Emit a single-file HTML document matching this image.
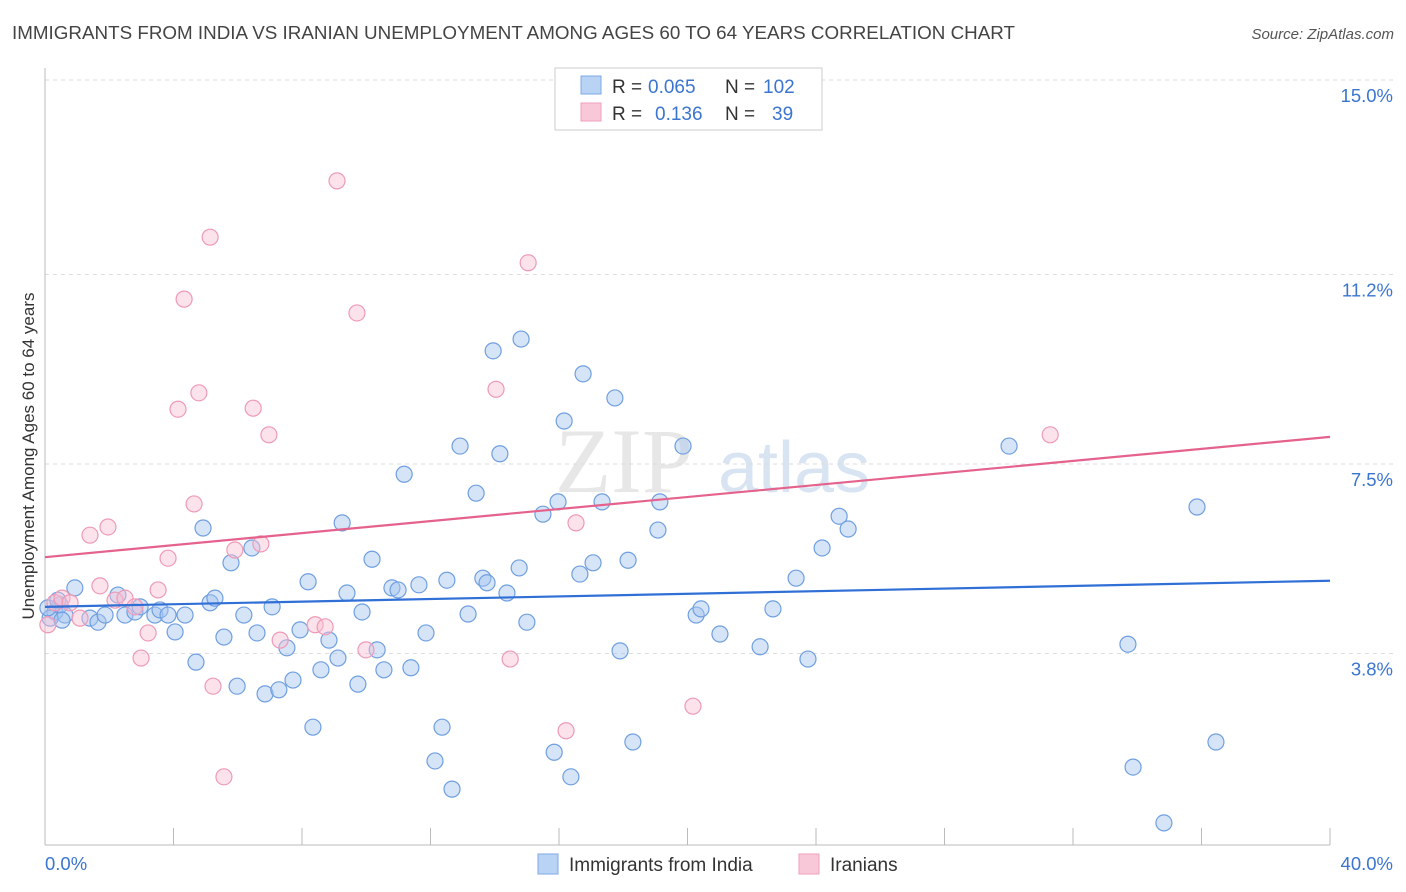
<!DOCTYPE html>
<html><head><meta charset="utf-8"><style>
body{margin:0;background:#fff;font-family:"Liberation Sans",sans-serif;}
svg{display:block}
</style></head><body>
<svg id="chart" width="1406" height="892" xmlns="http://www.w3.org/2000/svg">
<text x="12" y="39" font-size="18.5" fill="#444" textLength="1003" lengthAdjust="spacingAndGlyphs">IMMIGRANTS FROM INDIA VS IRANIAN UNEMPLOYMENT AMONG AGES 60 TO 64 YEARS CORRELATION CHART</text>
<text x="1394" y="39" font-size="15" fill="#555" text-anchor="end" font-style="italic">Source: ZipAtlas.com</text>
<g><text x="555" y="492" font-size="92" fill="#ddd" font-family="Liberation Serif,serif" opacity="0.7">ZIP</text><text x="718" y="492" font-size="72" fill="#c9d9ef" opacity="0.7">atlas</text></g>
<g id="grid"></g>
<g id="axes"></g>
<g id="pts"></g>
<g id="trends"></g>
<text transform="translate(34,456) rotate(-90)" font-size="17" fill="#333" text-anchor="middle">Unemployment Among Ages 60 to 64 years</text>
<g font-size="19">
<rect x="555" y="68" width="267" height="62" fill="#fff" stroke="#ccc"/>
<rect x="581" y="76" width="20" height="18" fill="#b9d3f5" stroke="#7ea9e5"/>
<rect x="581" y="103" width="20" height="18" fill="#f9c8d8" stroke="#f0a0bb"/>
<text x="612" y="93" fill="#333">R =</text><text x="648" y="93" fill="#3a75d0">0.065</text>
<text x="725" y="93" fill="#333">N =</text><text x="763" y="93" fill="#3a75d0">102</text>
<text x="612" y="120" fill="#333">R =</text><text x="655" y="120" fill="#3a75d0">0.136</text>
<text x="725" y="120" fill="#333">N =</text><text x="772" y="120" fill="#3a75d0">39</text>
</g>
<g>
<rect x="538" y="854" width="20" height="20" fill="#b9d3f5" stroke="#7ea9e5"/>
<text x="569" y="871" font-size="19" fill="#333">Immigrants from India</text>
<rect x="799" y="854" width="20" height="20" fill="#f9c8d8" stroke="#f0a0bb"/>
<text x="830" y="871" font-size="19" fill="#333">Iranians</text>
</g>
</svg>
<script>
const yTicks=[15.0,11.2,7.5,3.8];
const yTickLabels=["15.0%","11.2%","7.5%","3.8%"];
const xTicks=[0,4,8,12,16,20,24,28,32,36,40];
const xEndLabels=["0.0%","40.0%"];
const indiaX=[0.31,0.47,0.62,0.93,1.40,1.65,1.87,2.27,2.49,2.80,2.96,3.42,3.58,3.83,4.05,4.36,4.70,4.92,5.14,5.29,5.57,5.79,5.98,6.19,6.44,6.60,6.85,7.07,7.28,7.53,7.72,7.94,8.19,8.34,8.59,8.84,9.12,9.25,9.40,9.74,9.87,10.18,10.34,10.55,10.80,10.99,11.18,11.39,11.64,11.86,12.14,12.36,12.51,12.67,12.92,13.17,13.42,13.63,13.76,13.95,14.16,14.38,14.76,14.82,15.00,15.50,15.85,15.97,16.16,16.37,16.65,16.75,17.06,17.34,17.74,17.90,18.15,18.30,19.08,19.14,19.86,20.27,20.42,21.01,22.26,22.66,23.38,23.75,24.19,24.72,25.00,30.01,33.71,33.87,34.83,35.86,36.45,0.16,0.09,0.53,0.40];
const indiaY=[4.61,4.75,4.55,5.08,4.49,4.41,4.55,4.94,4.55,4.61,4.71,4.55,4.65,4.55,4.22,4.55,3.63,6.25,4.79,4.88,4.12,5.57,3.16,4.55,5.86,4.20,3.01,4.71,3.09,3.91,3.28,4.26,5.20,2.36,3.48,4.06,3.71,6.35,4.98,3.20,4.61,5.64,3.87,3.48,5.08,5.04,7.30,3.52,5.14,4.20,1.70,2.36,5.23,1.15,7.85,4.57,6.93,5.27,5.18,9.71,7.70,4.98,5.47,9.94,4.41,6.52,1.87,6.76,8.34,1.39,5.35,9.26,5.57,6.76,8.79,3.85,5.62,2.07,6.21,6.76,7.85,4.55,4.67,4.18,3.93,4.67,5.27,3.69,5.86,6.48,6.23,7.85,3.98,1.58,0.49,6.66,2.07,4.49,4.69,4.45,4.84];
const iranX=[0.09,0.31,0.53,0.78,1.09,1.40,1.71,1.96,2.18,2.49,2.80,2.99,3.21,3.52,3.83,4.14,4.33,4.64,4.79,5.14,5.23,5.57,5.91,6.48,6.72,6.97,7.32,8.41,8.72,9.09,9.71,9.99,14.04,14.48,15.04,16.22,16.53,20.17,31.29];
const iranY=[4.36,4.79,4.88,4.79,4.49,6.11,5.12,6.27,4.84,4.88,4.71,3.71,4.20,5.04,5.66,8.57,10.72,6.72,8.89,11.93,3.16,1.39,5.82,8.59,5.94,8.07,4.06,4.36,4.32,13.03,10.45,3.87,8.96,3.69,11.43,2.29,6.35,2.77,8.07];
const indiaTrend=[4.71,5.22];
const iranTrend=[5.68,8.03];
const NS="http://www.w3.org/2000/svg";
const X=v=>45+v/40*1285;
const Y=v=>80+(15-v)*51.2;
function mk(t,a,p){const e=document.createElementNS(NS,t);for(const k in a)e.setAttribute(k,a[k]);p.appendChild(e);return e;}
const grid=document.getElementById('grid'),axes=document.getElementById('axes');
yTicks.forEach((t,i)=>{
 const l=mk('line',{x1:45,x2:1395,y1:Y(t),y2:Y(t),stroke:'#ddd','stroke-dasharray':'4,4'},grid);
 
 
 const tx=mk('text',{x:1393,y:Y(t)+22,'font-size':18.5,fill:'#3a75d0','text-anchor':'end'},axes);
 tx.textContent=yTickLabels[i];
 
 
});
mk('line',{x1:45,x2:45,y1:68,y2:845,stroke:'#bbb'},axes);
mk('line',{x1:45,x2:1330,y1:845,y2:845,stroke:'#bbb'},axes);
xTicks.forEach(t=>{const l=mk('line',{x1:X(t),x2:X(t),y1:828,y2:845,stroke:'#bbb'},axes);
 
 });
const a=mk('text',{x:45,y:870,'font-size':18.5,fill:'#3a75d0'},axes);a.textContent=xEndLabels[0];

const b=mk('text',{x:1393,y:870,'font-size':18.5,fill:'#3a75d0','text-anchor':'end'},axes);b.textContent=xEndLabels[1];

const pts=document.getElementById('pts');
indiaX.forEach((x,i)=>{const c=mk('circle',{cx:X(x),cy:Y(indiaY[i]),r:8,fill:'rgba(164,196,240,0.45)',stroke:'#6f9fe0','stroke-width':1.2},pts);
 
 });
iranX.forEach((x,i)=>{const c=mk('circle',{cx:X(x),cy:Y(iranY[i]),r:8,fill:'rgba(248,190,210,0.45)',stroke:'#ee9ab7','stroke-width':1.2},pts);
 
 });
const tr=document.getElementById('trends');
const l1=mk('line',{x1:X(0),x2:X(40),y1:Y(indiaTrend[0]),y2:Y(indiaTrend[1]),stroke:'#2f6fd6','stroke-width':2.2},tr);


const l2=mk('line',{x1:X(0),x2:X(40),y1:Y(iranTrend[0]),y2:Y(iranTrend[1]),stroke:'#e4628c','stroke-width':2.2},tr);


</script>
</body></html>
